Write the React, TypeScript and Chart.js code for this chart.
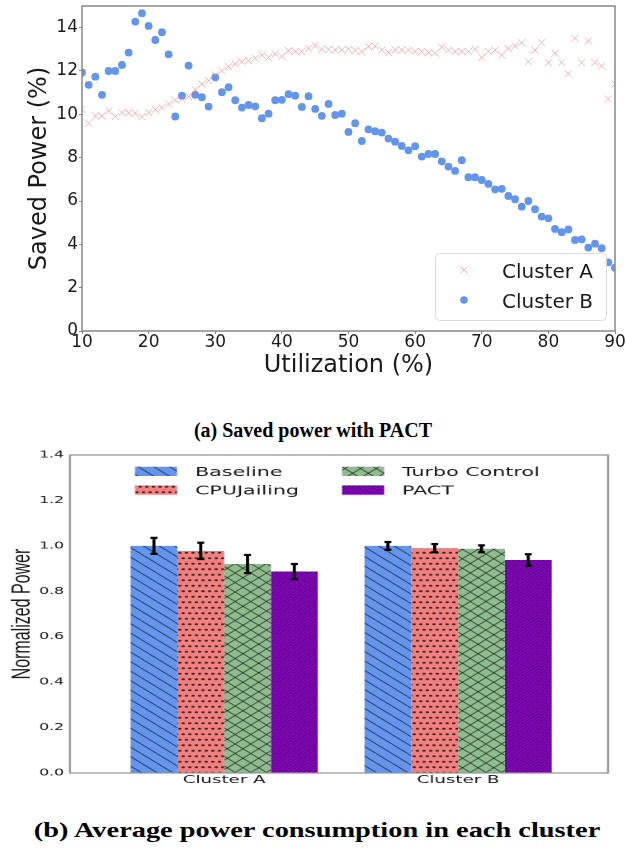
import React, { useEffect, useRef } from 'react';
import { Chart, registerables } from 'chart.js';

Chart.register(...registerables);

// ---------- (a) Saved power ----------
const utilization = [
  10, 11, 12, 13, 14, 15, 16, 17, 18, 19,
  20, 21, 22, 23, 24, 25, 26, 27, 28, 29,
  30, 31, 32, 33, 34, 35, 36, 37, 38, 39,
  40, 41, 42, 43, 44, 45, 46, 47, 48, 49,
  50, 51, 52, 53, 54, 55, 56, 57, 58, 59,
  60, 61, 62, 63, 64, 65, 66, 67, 68, 69,
  70, 71, 72, 73, 74, 75, 76, 77, 78, 79,
  80, 81, 82, 83, 84, 85, 86, 87, 88, 89,
  90,
];

const clusterA = [
  10.23, 9.59, 9.93, 9.93, 10.16, 9.9, 10.08, 10.08, 10.05, 9.9,
  10.08, 10.23, 10.31, 10.48, 10.66, 10.72, 10.82, 11.13, 11.4, 11.56,
  11.82, 12.02, 12.2, 12.33, 12.43, 12.48, 12.59, 12.74, 12.63, 12.79,
  12.67, 12.94, 12.9, 12.9, 13.05, 13.17, 13.0, 13.0, 12.97, 12.97,
  13.0, 12.95, 12.9, 13.13, 13.15, 12.97, 12.85, 12.97, 12.97, 12.97,
  12.9, 12.9, 12.85, 12.82, 13.1, 12.97, 12.9, 12.9, 12.9, 13.0,
  12.63, 12.9, 12.97, 12.74, 13.05, 13.16, 13.31, 12.43, 12.97, 13.31,
  12.39, 12.82, 12.39, 11.87, 13.51, 12.39, 13.4, 12.39, 12.23, 10.71,
  11.4,
];

const clusterB = [
  11.93, 11.36, 11.74, 10.9, 12.0, 12.0, 12.28, 12.85, 14.28, 14.67,
  14.08, 13.43, 13.79, 12.77, 9.9, 10.86, 12.25, 10.9, 10.79, 10.36,
  11.71, 11.02, 11.25, 10.65, 10.31, 10.43, 10.37, 9.82, 10.03, 10.65,
  10.67, 10.93, 10.86, 10.34, 10.84, 10.25, 9.93, 10.48, 9.97, 10.03,
  9.19, 9.59, 8.77, 9.31, 9.22, 9.16, 8.88, 8.74, 8.54, 8.34,
  8.53, 8.05, 8.17, 8.17, 7.83, 7.59, 7.39, 7.88, 7.1, 7.1,
  6.97, 6.79, 6.54, 6.56, 6.23, 6.08, 5.74, 6.0, 5.62, 5.28,
  5.2, 4.71, 4.56, 4.69, 4.2, 4.23, 3.85, 4.03, 3.82, 3.17,
  2.92,
];

const seriesNames = ['Cluster A', 'Cluster B'];
const xTicksA = [10, 20, 30, 40, 50, 60, 70, 80, 90];
const yTicksA = [0, 2, 4, 6, 8, 10, 12, 14];

// ---------- (b) Normalized power ----------
const groups = ['Cluster A', 'Cluster B'];
const methods = ['Baseline', 'CPUJailing', 'Turbo Control', 'PACT'];
const baselineValues = [1.0, 1.0];
const baselineErrors = [0.035, 0.017];
const cpuJailingValues = [0.978, 0.99];
const cpuJailingErrors = [0.036, 0.018];
const turboValues = [0.92, 0.987];
const turboErrors = [0.04, 0.015];
const pactValues = [0.887, 0.938];
const pactErrors = [0.033, 0.025];
const yTicksB = [0, 0.2, 0.4, 0.6, 0.8, 1.0, 1.2, 1.4];

const COLOR_A = 'rgba(240,128,128,0.6)';
const COLOR_B = '#6495ED';
const TEXT = '#1a1a1a';
const methodColors = ['#6495ED', '#F08080', '#8FBC8F', '#9400D3'];
const methodHatch = ['back', 'dots', 'cross', 'dense'];

function makePattern(base: string, kind: string): CanvasPattern | string {
  const S = 2;
  let w = 9.5, h = 9.5;
  if (kind === 'dots') { w = 4; h = 11; }
  if (kind === 'dense') { w = 3; h = 3; }
  const c = document.createElement('canvas');
  c.width = Math.round(w * S);
  c.height = Math.round(h * S);
  const g = c.getContext('2d');
  if (!g) return base;
  g.scale(S, S);
  g.fillStyle = base;
  g.fillRect(0, 0, w, h);
  g.strokeStyle = 'rgba(0,0,0,0.55)';
  g.lineWidth = 0.8;
  const back = () => {
    g.beginPath();
    for (let k = -1; k <= 1; k++) { g.moveTo(k * w, 0); g.lineTo(k * w + w, h); }
    g.stroke();
  };
  const fwd = () => {
    g.beginPath();
    for (let k = -1; k <= 1; k++) { g.moveTo(k * w, h); g.lineTo(k * w + w, 0); }
    g.stroke();
  };
  if (kind === 'back') back();
  if (kind === 'cross') { back(); fwd(); }
  if (kind === 'dense') { g.lineWidth = 0.9; g.strokeStyle = 'rgba(0,0,0,0.5)'; fwd(); }
  if (kind === 'dots') {
    g.fillStyle = 'rgba(40,20,20,0.85)';
    const pts = [[1, 2.75], [3, 8.25]];
    for (const [px, py] of pts) { g.beginPath(); g.arc(px, py, 1.05, 0, Math.PI * 2); g.fill(); }
  }
  const pat = g.createPattern(c, 'repeat');
  if (!pat) return base;
  try { pat.setTransform(new DOMMatrix([1 / S, 0, 0, 1 / S, 0, 0])); } catch (e) { /* ignore */ }
  return pat;
}

export default function App() {
  const topRef = useRef<HTMLCanvasElement>(null);
  const botRef = useRef<HTMLCanvasElement>(null);

  useEffect(() => {
    Chart.defaults.font.family = '"DejaVu Sans"';

    const boxA = {
      id: 'boxA',
      afterDraw(chart: any) {
        const { ctx, chartArea } = chart;
        ctx.save();
        ctx.strokeStyle = '#888';
        ctx.lineWidth = 1.5;
        ctx.strokeRect(chartArea.left, chartArea.top, chartArea.right - chartArea.left, chartArea.bottom - chartArea.top);
        ctx.restore();
      },
    };

    const legendA = {
      id: 'legendA',
      afterDraw(chart: any) {
        const ctx = chart.ctx as CanvasRenderingContext2D;
        ctx.save();
        ctx.beginPath();
        (ctx as any).roundRect(435.5, 253.5, 171, 67, 4);
        ctx.fillStyle = 'rgba(255,255,255,0.85)';
        ctx.fill();
        ctx.strokeStyle = '#dcdcdc';
        ctx.lineWidth = 1;
        ctx.stroke();
        const r = 5 * Math.SQRT1_2;
        ctx.beginPath();
        ctx.moveTo(464 - r, 270 - r); ctx.lineTo(464 + r, 270 + r);
        ctx.moveTo(464 - r, 270 + r); ctx.lineTo(464 + r, 270 - r);
        ctx.strokeStyle = COLOR_A;
        ctx.lineWidth = 1;
        ctx.stroke();
        ctx.beginPath();
        ctx.arc(464, 300, 3.8, 0, Math.PI * 2);
        ctx.fillStyle = COLOR_B;
        ctx.fill();
        ctx.font = '20px "DejaVu Sans"';
        ctx.fillStyle = TEXT;
        ctx.textAlign = 'left';
        ctx.textBaseline = 'alphabetic';
        ctx.fillText(seriesNames[0], 502, 278);
        ctx.fillText(seriesNames[1], 502, 308);
        ctx.restore();
      },
    };

    const top = new Chart(topRef.current as HTMLCanvasElement, {
      type: 'scatter',
      data: {
        datasets: [
          {
            label: seriesNames[0],
            data: utilization.map((u, i) => ({ x: u, y: clusterA[i] })),
            pointStyle: 'crossRot',
            pointRadius: 5,
            pointBorderWidth: 1,
            borderColor: COLOR_A,
            backgroundColor: COLOR_A,
          },
          {
            label: seriesNames[1],
            data: utilization.map((u, i) => ({ x: u, y: clusterB[i] })),
            pointStyle: 'circle',
            pointRadius: 3.9,
            pointBorderWidth: 0,
            borderColor: COLOR_B,
            backgroundColor: COLOR_B,
          },
        ],
      },
      options: {
        animation: false,
        responsive: true,
        maintainAspectRatio: false,
        events: [],
        layout: { padding: { left: 21, top: 6, right: 11, bottom: 0 } },
        plugins: { legend: { display: false }, tooltip: { enabled: false } },
        scales: {
          x: {
            type: 'linear',
            min: 10,
            max: 90,
            afterBuildTicks: (s: any) => { s.ticks = xTicksA.map((v) => ({ value: v })); },
            afterFit: (s: any) => { s.height = 59; s.paddingLeft = 0; s.paddingRight = 0; },
            ticks: { font: { size: 17, lineHeight: 1 }, color: TEXT, padding: 0, maxRotation: 0, autoSkip: false },
            grid: { display: true, drawOnChartArea: false, drawTicks: true, tickLength: 3, color: '#888' },
            border: { display: false },
            title: {
              display: true,
              text: 'Utilization (%)',
              font: { size: 24 },
              color: TEXT,
              padding: { top: 0, bottom: 9.6 },
            },
          },
          y: {
            type: 'linear',
            min: 0,
            max: 15,
            afterBuildTicks: (s: any) => { s.ticks = yTicksA.map((v) => ({ value: v })); },
            afterFit: (s: any) => { s.width = 61; s.paddingTop = 0; s.paddingBottom = 0; },
            ticks: { font: { size: 17 }, color: TEXT, padding: 1, autoSkip: false },
            grid: { display: true, drawOnChartArea: false, drawTicks: true, tickLength: 3, color: '#888' },
            border: { display: false },
            title: {
              display: true,
              text: 'Saved Power (%)',
              font: { size: 24 },
              color: TEXT,
              padding: { top: 4, bottom: 0 },
            },
          },
        },
      } as any,
      plugins: [boxA, legendA],
    });

    // ---------- bottom chart ----------
    const values = [baselineValues, cpuJailingValues, turboValues, pactValues];
    const errors = [baselineErrors, cpuJailingErrors, turboErrors, pactErrors];
    const patterns = methods.map((_, i) => makePattern(methodColors[i], methodHatch[i]));

    const boxB = {
      id: 'boxB',
      afterDraw(chart: any) {
        const { ctx, chartArea } = chart;
        ctx.save();
        ctx.strokeStyle = '#999';
        ctx.lineWidth = 1.3;
        ctx.strokeRect(chartArea.left, chartArea.top, chartArea.right - chartArea.left, chartArea.bottom - chartArea.top);
        ctx.restore();
      },
    };

    const errorBars = {
      id: 'errorBars',
      afterDatasetsDraw(chart: any) {
        const ctx = chart.ctx as CanvasRenderingContext2D;
        const yScale = chart.scales.y;
        ctx.save();
        ctx.strokeStyle = '#000';
        chart.data.datasets.forEach((ds: any, i: number) => {
          const meta = chart.getDatasetMeta(i);
          meta.data.forEach((el: any, j: number) => {
            const v = values[i][j];
            const e = errors[i][j];
            const yt = yScale.getPixelForValue(v + e);
            const yb = yScale.getPixelForValue(v - e);
            ctx.lineWidth = 1.9;
            ctx.beginPath();
            ctx.moveTo(el.x, yt);
            ctx.lineTo(el.x, yb);
            ctx.stroke();
            ctx.lineWidth = 2.2;
            ctx.beginPath();
            ctx.moveTo(el.x - 2.1, yt); ctx.lineTo(el.x + 2.1, yt);
            ctx.moveTo(el.x - 2.1, yb); ctx.lineTo(el.x + 2.1, yb);
            ctx.stroke();
          });
        });
        ctx.restore();
      },
    };

    const legendB = {
      id: 'legendB',
      afterDraw(chart: any) {
        const ctx = chart.ctx as CanvasRenderingContext2D;
        ctx.save();
        const colX = [81.8, 207.3];
        const rowY = [26.7, 45.4];
        const textX = [118.2, 243.6];
        ctx.font = '12.5px "DejaVu Sans"';
        ctx.textAlign = 'left';
        ctx.textBaseline = 'alphabetic';
        methods.forEach((m, i) => {
          const col = Math.floor(i / 2);
          const row = i % 2;
          ctx.fillStyle = patterns[i] as any;
          ctx.fillRect(colX[col], rowY[row], 25.5, 9.3);
          ctx.fillStyle = TEXT;
          ctx.fillText(m, textX[col], rowY[row] + 9.3);
        });
        ctx.restore();
      },
    };

    const bot = new Chart(botRef.current as HTMLCanvasElement, {
      type: 'bar',
      data: {
        datasets: methods.map((m, i) => ({
          label: m,
          data: groups.map((_, j) => ({ x: j, y: values[i][j] })),
          backgroundColor: patterns[i] as any,
          borderWidth: 0,
          barPercentage: 1.0,
          categoryPercentage: 0.8,
        })),
      },
      options: {
        animation: false,
        responsive: true,
        maintainAspectRatio: false,
        devicePixelRatio: 2,
        events: [],
        layout: { padding: { left: 0, top: 15, right: 10.5, bottom: 0 } },
        plugins: { legend: { display: false }, tooltip: { enabled: false } },
        scales: {
          x: {
            type: 'linear',
            min: -0.659,
            max: 1.641,
            offset: false,
            afterBuildTicks: (s: any) => { s.ticks = groups.map((_, j) => ({ value: j })); },
            afterFit: (s: any) => { s.height = 27; s.paddingLeft = 0; s.paddingRight = 0; },
            ticks: {
              font: { size: 11, lineHeight: 1 },
              color: TEXT,
              padding: 1.5,
              maxRotation: 0,
              autoSkip: false,
              callback: (v: any) => groups[Math.round(Number(v))] ?? '',
            },
            grid: { display: false, drawTicks: false, offset: false },
            border: { display: false },
          },
          y: {
            type: 'linear',
            min: 0,
            max: 1.4,
            afterBuildTicks: (s: any) => { s.ticks = yTicksB.map((v) => ({ value: v })); },
            afterFit: (s: any) => { s.width = 42.4; s.paddingTop = 0; s.paddingBottom = 0; },
            ticks: {
              font: { size: 9.5 },
              color: TEXT,
              padding: 3.6,
              autoSkip: false,
              callback: (v: any) => Number(v).toFixed(1),
            },
            grid: { display: false, drawTicks: false },
            border: { display: false },
            title: {
              display: true,
              text: 'Normalized Power',
              font: { family: '"Liberation Sans"', size: 16 },
              color: TEXT,
              padding: { top: 4, bottom: 0 },
            },
          },
        },
      } as any,
      plugins: [boxB, errorBars, legendB],
    });

    return () => {
      top.destroy();
      bot.destroy();
    };
  }, []);

  return (
    <div style={{ position: 'fixed', left: 0, top: 0, width: 626, height: 850, overflow: 'hidden', background: '#fff' }}>
      <div style={{ position: 'absolute', left: 0, top: 0, width: 626, height: 390 }}>
        <canvas ref={topRef} />
      </div>
      <div
        style={{
          position: 'absolute', left: 0, top: 418, width: 626, textAlign: 'center',
          fontFamily: '"Liberation Serif", serif', fontWeight: 'bold', fontSize: 20, lineHeight: '24px', color: '#000',
        }}
      >
        (a) Saved power with PACT
      </div>
      <div
        style={{
          position: 'absolute', left: 0, top: 440, width: 379, height: 360,
          transform: 'scaleX(1.65)', transformOrigin: '0 0',
        }}
      >
        <canvas ref={botRef} />
      </div>
      <div
        style={{
          position: 'absolute', left: 92, top: 817, width: 450, textAlign: 'center',
          fontFamily: '"Liberation Serif", serif', fontWeight: 'bold', fontSize: 22, lineHeight: '26px', color: '#000',
          transform: 'scaleX(1.29)', transformOrigin: '50% 50%', whiteSpace: 'nowrap',
        }}
      >
        (b) Average power consumption in each cluster
      </div>
    </div>
  );
}
